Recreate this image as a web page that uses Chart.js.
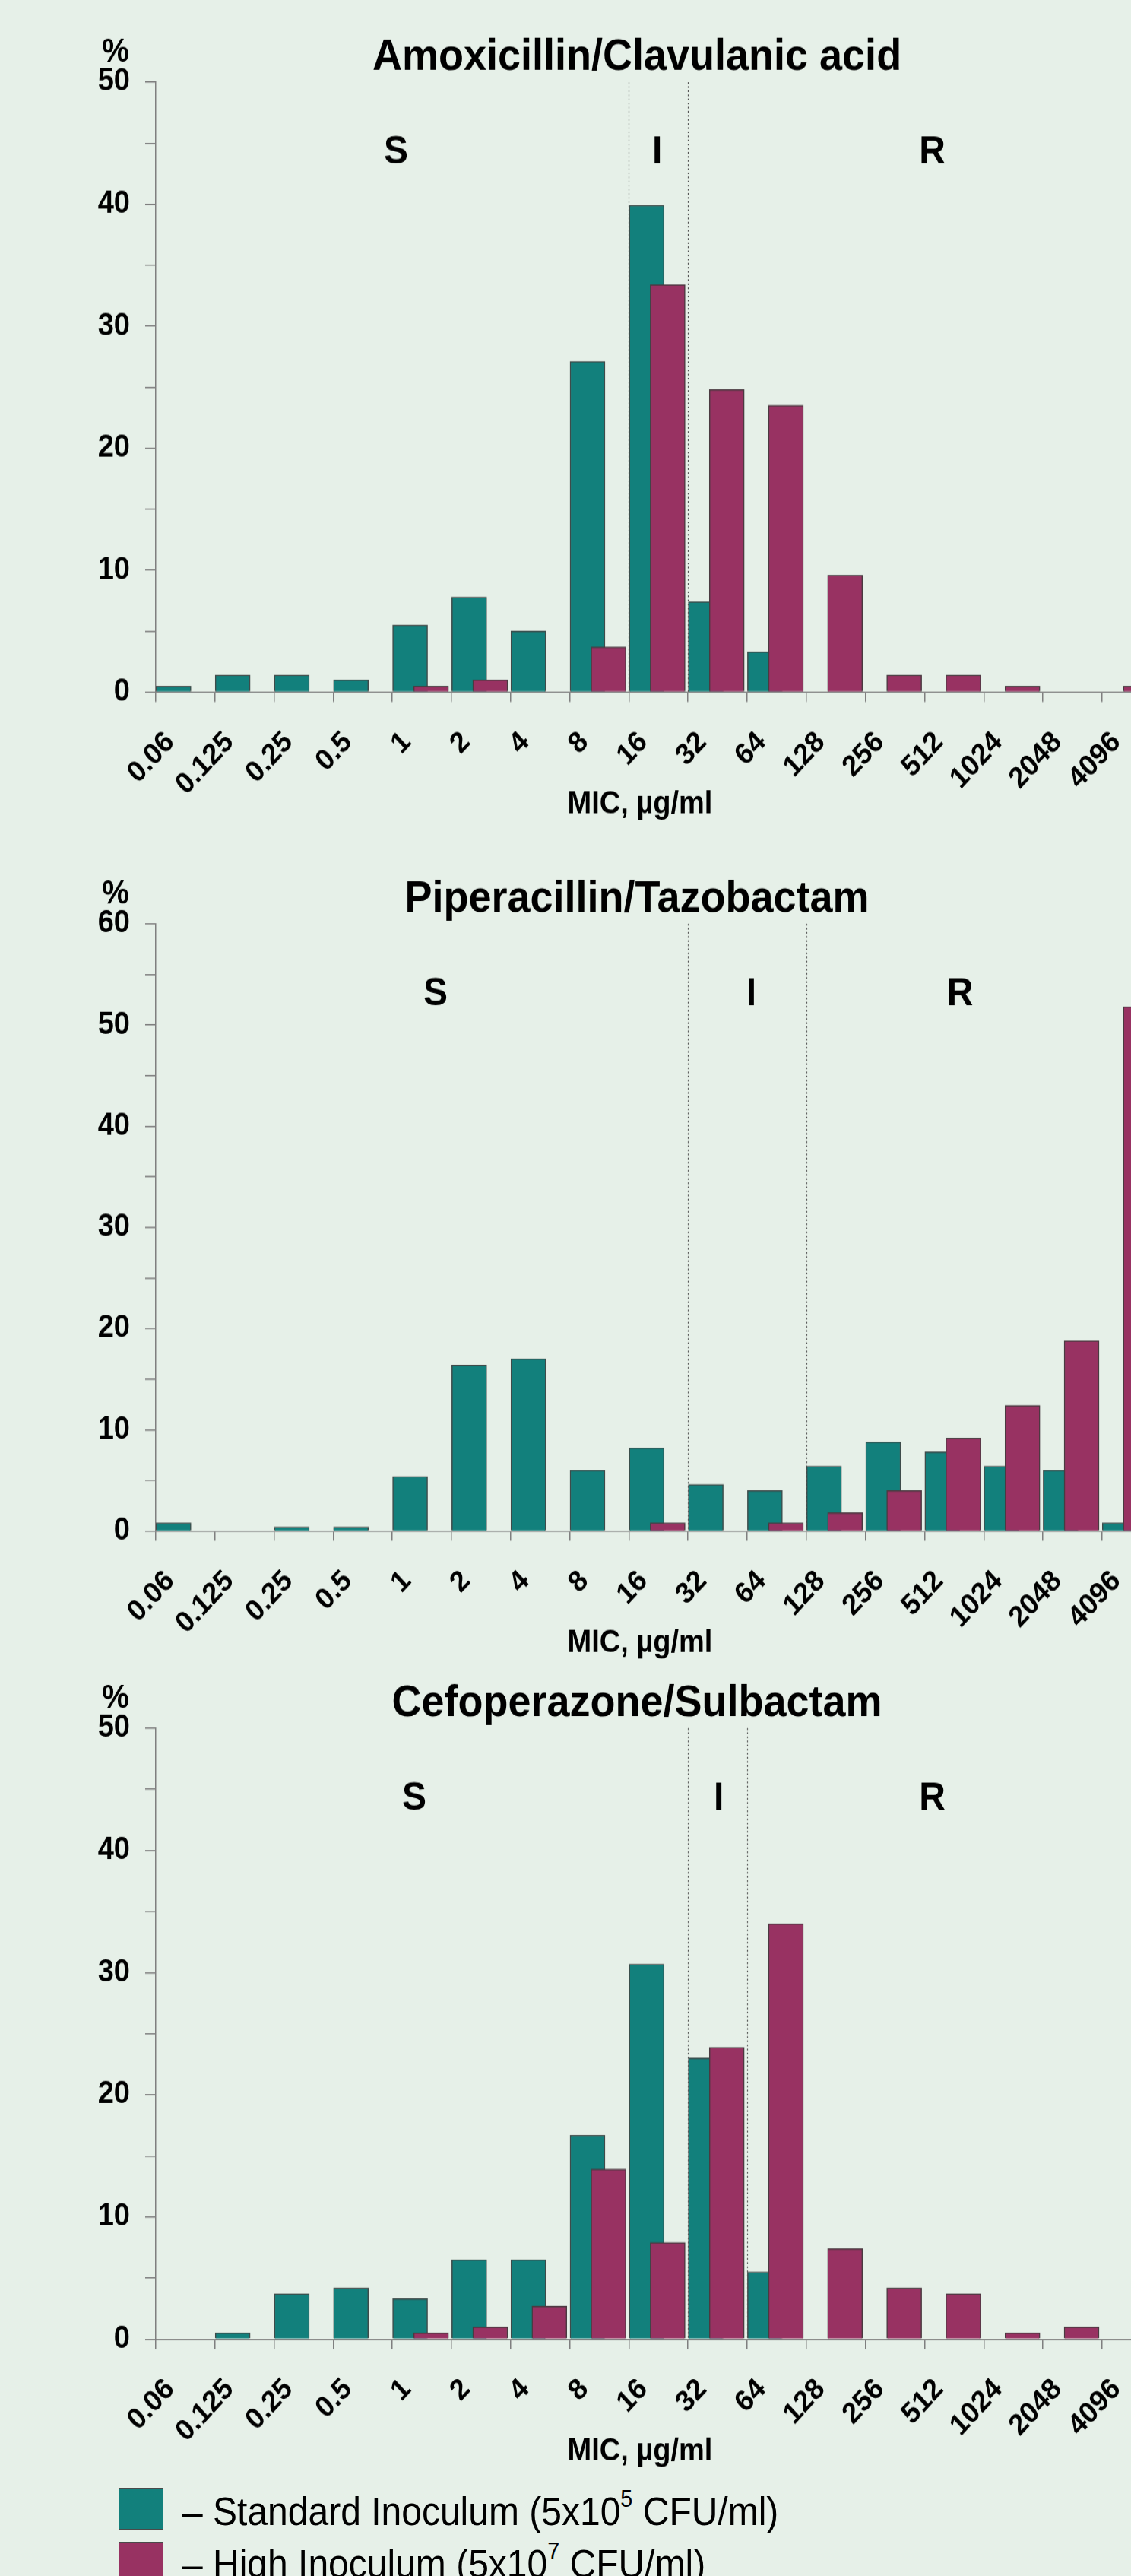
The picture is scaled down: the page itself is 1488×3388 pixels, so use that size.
<!DOCTYPE html>
<html>
<head>
<meta charset="utf-8">
<title>MIC distributions – standard vs high inoculum</title>
<script src="https://cdn.jsdelivr.net/npm/chart.js@4.4.1/dist/chart.umd.min.js"></script>
<style>
  html, body { margin: 0; padding: 0; }
  body {
    position: relative;
    width: 1488px;
    height: 3388px;
    overflow: hidden;
    background: #e6f0e8;
    font-family: "Liberation Sans", Arial, sans-serif;
  }
  canvas { position: absolute; left: 0; }
  .key {
    position: absolute;
    left: 156px;
    width: 59px;
    height: 55px;
    box-sizing: border-box;
    border: 1.5px solid #4a4a4a;
  }
  .key-text {
    position: absolute;
    left: 240px;
    font-size: 48px;
    line-height: 48px;
    white-space: nowrap;
    color: #000;
    transform: scaleY(1.08);
    transform-origin: 0 0;
  }
  .key-text sup { font-size: 0.6em; line-height: 0; vertical-align: 0.78em; }
</style>
</head>
<body>
<canvas id="amoxChart"></canvas>
<canvas id="piperChart"></canvas>
<canvas id="cefoChart"></canvas>

<div class="key" style="top:3272px; background:#12807c"></div>
<div class="key-text" style="top:3278px">– Standard Inoculum (5x10<sup>5</sup> CFU/ml)</div>
<div class="key" style="top:3343px; background:#983262"></div>
<div class="key-text" style="top:3347px">– High Inoculum (5x10<sup>7</sup> CFU/ml)</div>

<script>
// MIC tick labels (bars sit between two ticks)
const micLabels = ["0.06", "0.125", "0.25", "0.5", "1", "2", "4", "8", "16", "32", "64", "128", "256", "512", "1024", "2048", "4096"];

// % of isolates per MIC interval, null = no bar
const amoxStandard = [0.5, 1.4, 1.4, 1.0, 5.5, 7.8, 5.0, 27.1, 39.9, 7.4, 3.3, null, null, null, null, null, null];
const amoxHigh = [null, null, null, null, 0.5, 1.0, null, 3.7, 33.4, 24.8, 23.5, 9.6, 1.4, 1.4, 0.5, null, 0.5];

const piperStandard = [0.8, null, 0.4, 0.4, 5.4, 16.4, 17.0, 6.0, 8.2, 4.6, 4.0, 6.4, 8.8, 7.8, 6.4, 6.0, 0.8];
const piperHigh = [null, null, null, null, null, null, null, null, 0.8, null, 0.8, 1.8, 4.0, 9.2, 12.4, 18.8, 51.8];

const cefoStandard = [null, 0.5, 3.7, 4.2, 3.3, 6.5, 6.5, 16.7, 30.7, 23.0, 5.5, null, null, null, null, null, null];
const cefoHigh = [null, null, null, null, 0.5, 1.0, 2.7, 13.9, 7.9, 23.9, 34.0, 7.4, 4.2, 3.7, 0.5, 1.0, null];

const TEAL = "#12807c";
const PLUM = "#983262";
const AXIS = "#7f7f7f";
const FONT = "'Liberation Sans', Arial, sans-serif";
const K = 1.08;          // the original figure is slightly stretched vertically
const X_MAX = 16.49;     // plot is cut at the right edge, inside the 4096 interval
const BAR_PX = 46;       // each bar is ~0.59 of an MIC interval

Chart.defaults.font.family = FONT;
Chart.defaults.color = "#000";

// S / I / R zones, dotted breakpoint lines, titles
const overlay = {
  id: "overlay",
  afterDatasetsDraw(chart, args, opts) {
    const { ctx, chartArea, scales } = chart;
    const x = scales.x;
    ctx.save();

    ctx.strokeStyle = "#555";
    ctx.lineWidth = 1.2;
    ctx.setLineDash([2, 3]);
    opts.breaks.forEach((b) => {
      const px = Math.round(x.getPixelForValue(b)) + 0.5;
      ctx.beginPath();
      ctx.moveTo(px, chartArea.top);
      ctx.lineTo(px, chartArea.bottom);
      ctx.stroke();
    });
    ctx.setLineDash([]);

    ctx.fillStyle = "#000";
    ctx.textAlign = "center";
    ctx.textBaseline = "alphabetic";

    ctx.font = "bold 54px " + FONT;
    ctx.fillText(opts.title, 838, chartArea.top - 16 / K);

    ctx.font = "bold 40px " + FONT;
    ctx.fillText("%", 152, chartArea.top - 27 / K);

    ctx.font = "bold 48px " + FONT;
    opts.zones.forEach((z) => {
      ctx.fillText(z.text, x.getPixelForValue(z.x), chartArea.top + 107 / K);
    });

    ctx.font = "bold 38px " + FONT;
    ctx.fillText("MIC, µg/ml", 842, chartArea.bottom + 159 / K);

    ctx.restore();
  },
};

function makeChart(id, box, spec) {
  const canvas = document.getElementById(id);
  const h = Math.round(box.height / K);
  canvas.width = 1488;
  canvas.height = h;
  canvas.style.top = box.top + "px";
  canvas.style.width = "1488px";
  canvas.style.height = box.height + "px";

  const plotTop = (box.plotTop - box.top) / K;
  const plotBottom = (box.plotBottom - box.top) / K;
  const xAxisHeight = h - plotBottom;

  const toPoints = (arr, shift) =>
    arr.map((v, i) => ({ x: i + shift, y: v })).filter((p) => p.y !== null);

  return new Chart(canvas, {
    type: "bar",
    data: {
      datasets: [
        {
          label: "Standard Inoculum (5x10^5 CFU/ml)",
          data: toPoints(spec.standard, 0.3),
          xAxisID: "x",
          backgroundColor: TEAL,
          borderColor: "#3e4b4a",
          borderWidth: 1.5,
          grouped: false,
          barThickness: BAR_PX,
          order: 2,
        },
        {
          label: "High Inoculum (5x10^7 CFU/ml)",
          data: toPoints(spec.high, 0.655),
          xAxisID: "x2",
          backgroundColor: PLUM,
          borderColor: "#4a3a40",
          borderWidth: 1.5,
          grouped: false,
          barThickness: BAR_PX,
          order: 1,
        },
      ],
    },
    options: {
      responsive: false,
      devicePixelRatio: 1,
      animation: false,
      layout: { autoPadding: false, padding: { top: plotTop, left: 0, right: 0, bottom: 0 } },
      plugins: {
        legend: { display: false },
        tooltip: { enabled: false },
        overlay: { title: spec.title, breaks: spec.breaks, zones: spec.zones },
      },
      scales: {
        x: {
          type: "linear",
          min: 0,
          max: X_MAX,
          offset: false,
          ticks: {
            stepSize: 1,
            includeBounds: false,
            autoSkip: false,
            minRotation: 45,
            maxRotation: 45,
            padding: 28,
            labelOffset: 19,
            font: { size: 36, weight: "bold" },
            callback: (v) => micLabels[Math.round(v)],
          },
          grid: { offset: false, drawOnChartArea: false, tickLength: 12, color: AXIS, lineWidth: 1.5 },
          border: { color: AXIS, width: 1.5 },
          afterFit: (s) => {
            s.height = xAxisHeight;
            s.paddingLeft = 0;
            s.paddingRight = 0;
          },
        },
        x2: {
          type: "linear",
          display: false,
          min: 0,
          max: X_MAX,
          offset: false,
          ticks: { stepSize: 1, includeBounds: false },
        },
        y: {
          min: 0,
          max: spec.yMax,
          ticks: {
            stepSize: 5,
            padding: 20,
            font: { size: 38, weight: "bold" },
            callback: (v) => (v % 10 === 0 ? v : ""),
          },
          grid: { drawOnChartArea: false, tickLength: 14, color: AXIS, lineWidth: 1.5 },
          border: { color: AXIS, width: 1.5 },
          afterFit: (s) => {
            s.width = 205;
            s.paddingTop = 0;
            s.paddingBottom = 0;
          },
        },
      },
    },
    plugins: [overlay],
  });
}

makeChart("amoxChart", { top: 0, height: 1090, plotTop: 108, plotBottom: 910 }, {
  title: "Amoxicillin/Clavulanic acid",
  standard: amoxStandard,
  high: amoxHigh,
  yMax: 50,
  breaks: [8, 9],
  zones: [{ text: "S", x: 4.06 }, { text: "I", x: 8.48 }, { text: "R", x: 13.13 }],
});

makeChart("piperChart", { top: 1090, height: 1100, plotTop: 1215, plotBottom: 2014 }, {
  title: "Piperacillin/Tazobactam",
  standard: piperStandard,
  high: piperHigh,
  yMax: 60,
  breaks: [9, 11],
  zones: [{ text: "S", x: 4.73 }, { text: "I", x: 10.07 }, { text: "R", x: 13.6 }],
});

makeChart("cefoChart", { top: 2190, height: 1060, plotTop: 2273, plotBottom: 3076 }, {
  title: "Cefoperazone/Sulbactam",
  standard: cefoStandard,
  high: cefoHigh,
  yMax: 50,
  breaks: [9, 10],
  zones: [{ text: "S", x: 4.37 }, { text: "I", x: 9.52 }, { text: "R", x: 13.13 }],
});
</script>
</body>
</html>
